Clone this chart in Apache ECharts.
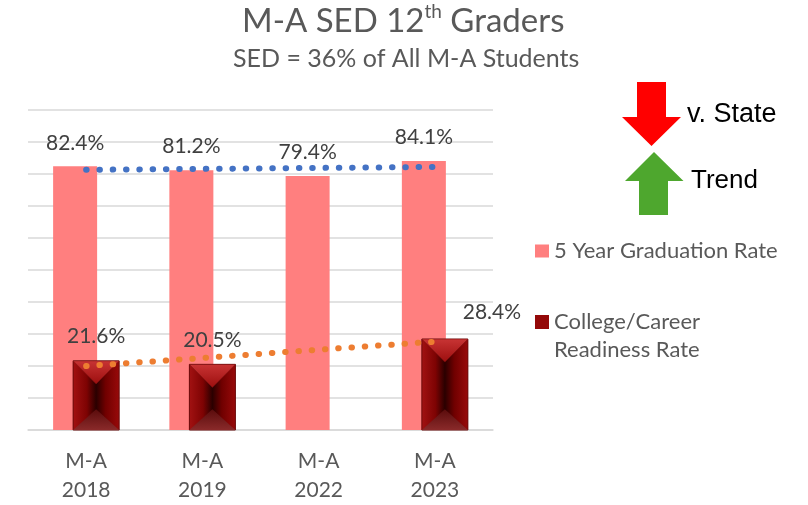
<!DOCTYPE html>
<html>
<head>
<meta charset="utf-8">
<script src="https://cdn.jsdelivr.net/npm/echarts@6/dist/echarts.min.js"></script>
<style>
  html, body { margin: 0; padding: 0; background: #fff; }
  #main { width: 808px; height: 505px; }
</style>
</head>
<body>
<div id="main"></div>
<script>
// chart data
var years = ['M-A\n2018', 'M-A\n2019', 'M-A\n2022', 'M-A\n2023'];
var gradRate = [82.4, 81.2, 79.4, 84.1];
var collegeRate = [21.6, 20.5, null, 28.4];
// dotted trend lines
var gradTrend = [81.3, 81.6, 81.9, 82.2];
var collegeTrend = [20.0, 22.5, 25.1, 27.6];
var yMin = 0, yMax = 100, yStep = 10;

var FONT = 'Lato';
var GREY = '#595959';

// bevelled dark red bar (drawn over the real bar series)
function bevelBar(params, api) {
  var v = api.value(1);
  if (v == null || isNaN(v)) return;
  var top = api.coord([api.value(0), v]);
  var base = api.coord([api.value(0), 0]);
  var w = 46, cx = top[0] + 10;
  var x0 = cx - w / 2, x1 = cx + w / 2, y0 = top[1], y1 = base[1];
  var d = Math.min(w / 2, (y1 - y0) / 2);
  return {
    type: 'group',
    children: [
      {
        type: 'rect',
        shape: { x: x0, y: y0, width: w, height: y1 - y0 },
        style: {
          fill: new echarts.graphic.LinearGradient(0, 0, 1, 0, [
            { offset: 0, color: '#a31212' },
            { offset: 0.3, color: '#7e0303' },
            { offset: 0.5, color: '#2a0000' },
            { offset: 0.7, color: '#700000' },
            { offset: 1, color: '#9a0a0a' }
          ]),
          stroke: '#6a0c0c', lineWidth: 1
        }
      },
      {
        type: 'polygon',
        shape: { points: [[x0, y0], [x1, y0], [cx, y0 + d]] },
        style: {
          fill: new echarts.graphic.LinearGradient(0, 0, 0, 1, [
            { offset: 0, color: '#c83434' },
            { offset: 1, color: '#9c0e0e' }
          ]),
          stroke: '#7a1010', lineWidth: 0.5
        }
      },
      {
        type: 'polygon',
        shape: { points: [[x0, y1], [x1, y1], [cx, y1 - d * 0.9]] },
        style: {
          fill: new echarts.graphic.LinearGradient(0, 0, 0, 1, [
            { offset: 0, color: '#5a0c0c' },
            { offset: 1, color: '#8a2a2a' }
          ])
        }
      }
    ]
  };
}

var myChart = echarts.init(document.getElementById('main'));

var option = {
  animation: false,
  textStyle: { fontFamily: FONT },
  title: [{
    text: '{a|M-A SED 12}{s|th}{a| Graders}',
    left: 242, top: 2, padding: 0,
    textStyle: {
      rich: {
        a: { fontFamily: FONT, fontSize: 33, fontWeight: 'normal', color: GREY, lineHeight: 38 },
        s: { fontFamily: FONT, fontSize: 19, fontWeight: 'normal', color: GREY, lineHeight: 21, verticalAlign: 'top' }
      }
    }
  }, {
    text: 'SED = 36% of All M-A Students',
    left: 233, top: 44, padding: 0,
    textStyle: { fontFamily: FONT, fontSize: 25, color: GREY, fontWeight: 'normal', lineHeight: 30 }
  }],
  legend: [{
    data: ['5 Year Graduation Rate'],
    left: 535, top: 240, padding: 0,
    itemWidth: 14, itemHeight: 13,
    selectedMode: false,
    icon: 'rect',
    textStyle: { fontFamily: FONT, fontSize: 22, color: GREY }
  }, {
    data: ['College/Career Readiness Rate'],
    left: 535, top: 280, padding: 0,
    itemWidth: 14, itemHeight: 14,
    selectedMode: false,
    icon: 'rect',
    // blank first line keeps the first text line level with the icon
    formatter: function () { return ' \nCollege/Career\nReadiness Rate'; },
    textStyle: { fontFamily: FONT, fontSize: 22, color: GREY, lineHeight: 28 }
  }],
  grid: { left: 28, right: 315, top: 110, bottom: 74 },
  xAxis: {
    type: 'category',
    data: years,
    axisLine: { lineStyle: { color: '#d9d9d9', width: 1.5 } },
    axisTick: { show: false },
    axisLabel: { fontFamily: FONT, fontSize: 21, color: GREY, lineHeight: 29, margin: 17 }
  },
  yAxis: {
    type: 'value',
    min: yMin, max: yMax, interval: yStep,
    axisLabel: { show: false },
    axisLine: { show: false },
    axisTick: { show: false },
    splitLine: { lineStyle: { color: '#d9d9d9', width: 1.5 } }
  },
  graphic: [
    {
      type: 'polygon', silent: true,
      shape: { points: [[637, 82], [666, 82], [666, 117], [681, 117], [651.5, 146], [622, 117], [637, 117]] },
      style: { fill: '#ff0000' }
    },
    {
      type: 'polygon', silent: true,
      shape: { points: [[654, 152], [683.5, 181], [668, 181], [668, 215], [639, 215], [639, 181], [625, 181]] },
      style: { fill: '#4ea72e' }
    },
    {
      type: 'text', left: 687, top: 101,
      style: { text: 'v. State', font: '27px "Liberation Sans"', fill: '#000' }
    },
    {
      type: 'text', left: 691, top: 168,
      style: { text: 'Trend', font: '26px "Liberation Sans"', fill: '#000' }
    }
  ],
  series: [{
    name: '5 Year Graduation Rate',
    type: 'bar',
    barWidth: 44,
    barGap: '-54.5%',
    data: gradRate,
    itemStyle: { color: '#ff7f7f' },
    label: {
      show: true, position: 'top', distance: 13,
      fontFamily: FONT, fontSize: 21, color: '#404040',
      formatter: function (p) { return p.value.toFixed(1) + '%'; }
    },
    z: 2
  }, {
    name: 'College/Career Readiness Rate',
    type: 'bar',
    barWidth: 46,
    data: collegeRate.map(function (v, i) {
      if (i === 3) return { value: v, label: { offset: [47, -2] } };
      return v;
    }),
    itemStyle: { color: '#940808' },
    label: {
      show: true, position: 'top', distance: 14,
      fontFamily: FONT, fontSize: 21, color: '#404040',
      formatter: function (p) { return p.value == null ? '' : p.value.toFixed(1) + '%'; }
    },
    z: 2
  }, {
    name: 'bevel',
    type: 'custom',
    renderItem: bevelBar,
    data: collegeRate.map(function (v, i) { return [i, v]; }),
    encode: { x: 0, y: 1 },
    silent: true,
    z: 3
  }, {
    name: 'grad trend',
    type: 'line',
    data: gradTrend,
    symbol: 'none',
    silent: true,
    lineStyle: { color: '#4472c4', width: 6, type: [0.5, 12.8], cap: 'round' },
    z: 4
  }, {
    name: 'college trend',
    type: 'line',
    data: collegeTrend,
    symbol: 'none',
    silent: true,
    lineStyle: { color: '#ed7d31', width: 6, type: [0.5, 12.8], cap: 'round' },
    z: 4
  }]
};

myChart.setOption(option);
</script>
</body>
</html>
